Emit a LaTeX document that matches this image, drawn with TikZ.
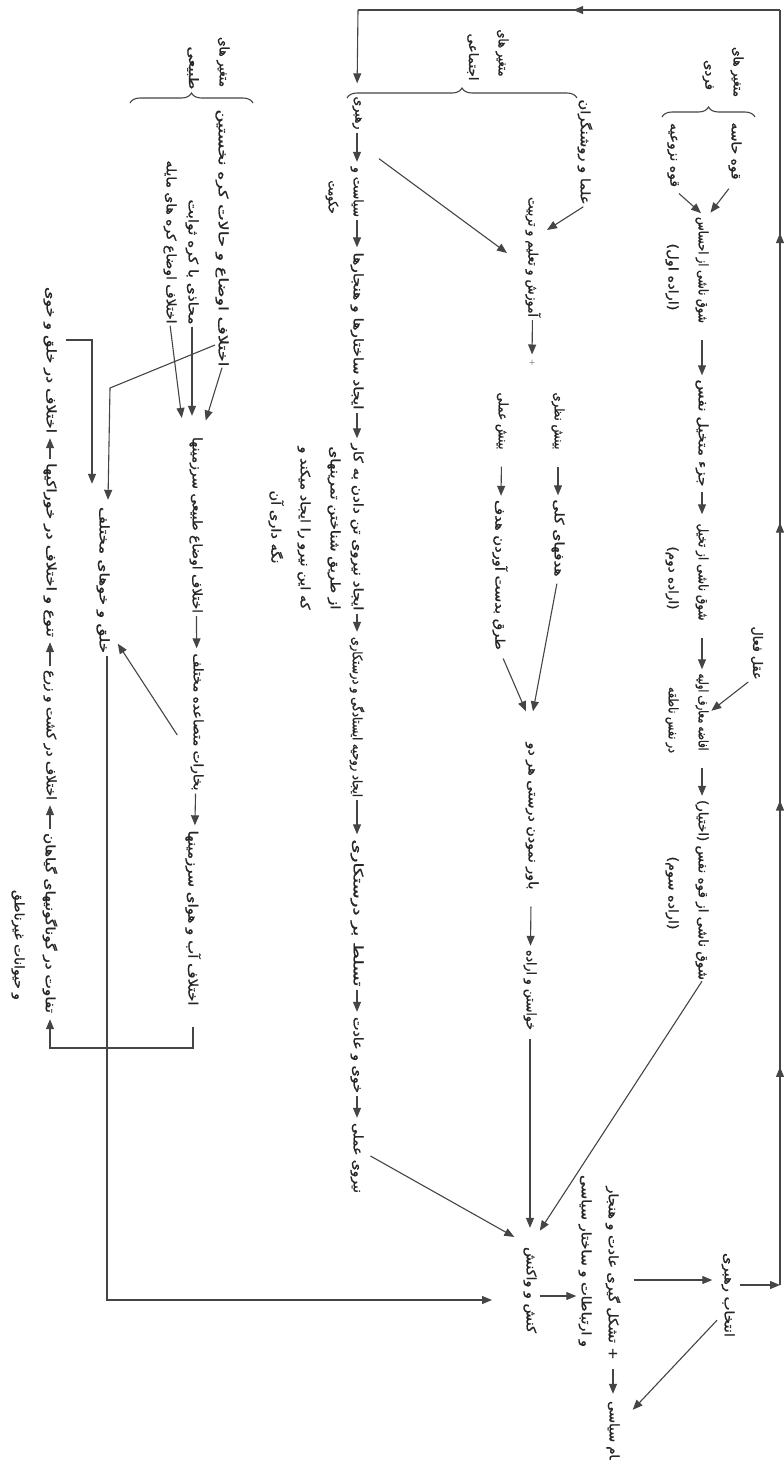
\documentclass[tikz,border=0pt]{standalone}
\usepackage{fontspec}
\usepackage{graphicx}
\usetikzlibrary{arrows.meta,decorations.pathreplacing,decorations.markings,calc}
\TeXXeTstate=1
\newfontfamily\arabicfont[Script=Arabic,FakeBold=1.2]{DejaVu Sans}
\newcommand{\fx}[2]{\resizebox{#1pt}{\height}{\arabicfont #2}}
\definecolor{inkc}{HTML}{262626}
\definecolor{linec}{HTML}{454545}
\begin{document}
\begin{tikzpicture}[x=1pt,y=-1pt,
  txt/.style={rotate=-90, inner sep=1pt, text=inkc, font=\fontsize{13}{15}\selectfont},
  ln/.style={draw=linec, line width=1.1pt},
  arr/.style={ln, -{Triangle[length=10pt,width=8pt]}},
  chainA/.style={arr, shorten <=16pt, shorten >=3pt},
  chainC/.style={arr, shorten <=2pt, shorten >=4pt},
  brc/.style={ln, decorate, decoration={brace, amplitude=10pt}},
  tipmark/.style={ln, postaction={decorate, decoration={markings,
     mark=at position 0.171 with {\arrow{Triangle[length=10pt,width=8pt]}},
     mark=at position 0.380 with {\arrow{Triangle[length=10pt,width=8pt]}},
     mark=at position 0.598 with {\arrow{Triangle[length=10pt,width=8pt]}},
     mark=at position 0.825 with {\arrow{Triangle[length=10pt,width=8pt]}}}}},
  topmark/.style={ln, postaction={decorate, decoration={markings,
     mark=at position 0.49 with {\arrow{Triangle[length=10pt,width=8pt]}}}}}
  ]
\useasboundingbox (0,0) rectangle (784,1460);
\fill[white] (0,0) rectangle (784,1460);
\clip (0,0) rectangle (784,1460);

% ---------------- individual variables ----------------
\node[txt] (vf1) at (737,72) {\fx{50}{\beginR متغیر های\endR}};
\node[txt] (vf2) at (708,75) {\fx{30}{\beginR فردی\endR}};
\draw[brc] (662,117) -- (755,117);
\node[txt] (hasse) at (735,151) {\fx{57}{\beginR قوه حاسه\endR}};
\node[txt] (nozui) at (673,155) {\fx{64}{\beginR قوه نزوعیه\endR}};
\node[txt] (a1) at (702,270) {\fx{106}{\beginR شوق ناشی از احساس\endR}};
\node[txt] (a1s) at (672,277) {\fx{67}{\beginR (اراده اول)\endR}};
\node[txt] (a2) at (702,433) {\fx{107}{\beginR جزء متخیل نفس\endR}};
\node[txt] (a3) at (702,572) {\fx{97}{\beginR شوق ناشی از تخیل\endR}};
\node[txt] (a3s) at (672,578) {\fx{63}{\beginR (اراده دوم)\endR}};
\node[txt] (aql) at (757,653) {\fx{53}{\beginR عقل فعال\endR}};
\node[txt] (a4) at (702,712) {\fx{77}{\beginR افاضه معارف اولیه\endR}};
\node[txt] (a4s) at (672,720) {\fx{66}{\beginR در نفس ناطقه\endR}};
\node[txt] (a5) at (702,890) {\fx{180}{\beginR شوق ناشی از قوه نفس (اختیار)\endR}};
\node[txt] (a5s) at (672,893) {\fx{73}{\beginR (اراده سوم)\endR}};

\draw[arr, shorten <=10pt, shorten >=4pt] (hasse.east) -- ($(a1.west)+(6,0)$);
\draw[arr, shorten <=8pt, shorten >=4pt] (nozui.east) -- ($(a1.west)+(2,0)$);
\draw[chainA] (a1) -- (a2);
\draw[arr, shorten <=4pt, shorten >=8pt] (a2) -- (a3);
\draw[chainA] (a3) -- (a4);
\draw[chainA] (a4) -- (a5);
\draw[arr, shorten <=2pt, shorten >=2pt] (aql.south east) -- (a4.north);

% ---------------- social variables ----------------
\node[txt] (ve1) at (502,53) {\fx{47}{\beginR متغیر های\endR}};
\node[txt] (ve2) at (473,57) {\fx{47}{\beginR اجتماعی\endR}};
\draw[brc] (347,98) -- (577,98);
\node[txt] (olama) at (585,152) {\fx{105}{\beginR علما و روشنگران\endR}};
\node[txt] (b1) at (533,257) {\fx{120}{\beginR آموزش و تعلیم و تربیت\endR}};
\node[txt, font=\fontsize{8}{9}\selectfont] (plus1) at (532,363) {+};
\node[txt] (b2a) at (558,421) {\fx{57}{\beginR بینش نظری\endR}};
\node[txt] (b2b) at (502,421) {\fx{57}{\beginR بینش عملی\endR}};
\node[txt] (b3a) at (558,538) {\fx{77}{\beginR هدفهای کلی\endR}};
\node[txt] (b3b) at (500,575) {\fx{150}{\beginR طرق بدست آوردن هدف\endR}};
\node[txt] (b4) at (532,816) {\fx{147}{\beginR باور نمودن درستی هر دو\endR}};
\node[txt] (b5) at (530,990) {\fx{80}{\beginR خواستن و اراده\endR}};

\draw[arr, shorten <=2pt] (olama.east) -- ($(b1.center)+(14,-27)$);
\draw[arr, shorten <=2pt, shorten >=4pt] (b1) -- (plus1);
\draw[chainA] (b2a) -- (b3a);
\draw[chainA] (b2b) -- (b3b);
\draw[arr, shorten <=6pt] (b3a.east) -- ($(b4.west)+(1,-30)$);
\draw[arr, shorten <=8pt] (b3b.east) -- ($(b4.west)+(-6,-30)$);
\draw[chainA] (b4) -- (b5);

% ---------------- leadership chain ----------------
\node[txt] (c0) at (357,113) {\fx{33}{\beginR رهبری\endR}};
\node[txt] (c1) at (357,192) {\fx{50}{\beginR سیاست و\endR}};
\node[txt] (c1b) at (332,197) {\fx{33}{\beginR حکومت\endR}};
\node[txt] (c2) at (357,331) {\fx{157}{\beginR ایجاد ساختارها و هنجارها\endR}};
\node[txt] (c3) at (357,527) {\fx{167}{\beginR ایجاد نیروی تن دادن به کار\endR}};
\node[txt] (c3s1) at (334,528) {\fx{163}{\beginR از طریق شناختن تمرینهای\endR}};
\node[txt] (c3s2) at (304,528) {\fx{163}{\beginR که این نیرو را ایجاد میکند و\endR}};
\node[txt] (c3s3) at (276,527) {\fx{73}{\beginR نگه داری آن\endR}};
\node[txt] (c4) at (357,717) {\fx{160}{\beginR ایجاد روحیه ایستادگی و درستکاری\endR}};
\node[txt] (c5) at (357,913) {\fx{147}{\beginR تسلط بر درستکاری\endR}};
\node[txt] (c6) at (357,1055) {\fx{76}{\beginR خوی و عادت\endR}};
\node[txt] (c7) at (357,1158) {\fx{70}{\beginR نیروی عملی\endR}};

\draw[chainC] (c0) -- (c1);
\draw[chainC] (c1) -- (c2);
\draw[chainC] (c2) -- (c3);
\draw[chainC] (c3) -- (c4);
\draw[chainC] (c4) -- (c5);
\draw[chainC] (c5) -- (c6);
\draw[chainC] (c6) -- (c7);
\draw[arr] ($(c0.east)+(22,28)$) -- ($(b1.center)+(-26,-4)$);

% ---------------- natural variables ----------------
\node[txt] (vt1) at (223,62) {\fx{50}{\beginR متغیر های\endR}};
\node[txt] (vt2) at (193,68) {\fx{43}{\beginR طبیعی\endR}};
\draw[brc] (130,103) -- (253,103);
\node[txt] (d1) at (222,238) {\fx{257}{\beginR اختلاف اوضاع و حالات کره نخستین\endR}};
\node[txt] (d2) at (192,262) {\fx{125}{\beginR محاذی با کره ثوابت\endR}};
\node[txt] (d3) at (170,242) {\fx{163}{\beginR اختلاف اوضاع کره های مایله\endR}};
\node[txt] (d4) at (196,525) {\fx{176}{\beginR اختلاف اوضاع طبیعی سرزمینها\endR}};
\node[txt] (d5) at (197,722) {\fx{137}{\beginR بخارات متصاعده مختلف\endR}};
\node[txt] (d6) at (193,918) {\fx{175}{\beginR اختلاف آب و هوای سرزمینها\endR}};
\node[txt] (e1) at (103,580) {\fx{146}{\beginR خلق و خوهای مختلف\endR}};
\node[txt] (f1) at (50,360) {\fx{146}{\beginR اختلاف در خلق و خوی\endR}};
\node[txt] (f2) at (50,550) {\fx{174}{\beginR تنوع و اختلاف در خوراکیها\endR}};
\node[txt] (f3) at (50,735) {\fx{130}{\beginR اختلاف در کشت و زرع\endR}};
\node[txt] (f4) at (50,923) {\fx{180}{\beginR تفاوت در گوناگونیهای گیاهان\endR}};
\node[txt] (f4b) at (18,945) {\fx{110}{\beginR و حیوانات غیرناطق\endR}};

\draw[arr, shorten >=16pt] (d1.east) -- ($(d4.west)+(5,0)$);
\draw[arr, shorten <=1pt, shorten >=20pt] (d2.east) -- ($(d4.west)+(-4,0)$);
\draw[arr, shorten <=1pt, shorten >=18pt] (d3.east) -- ($(d4.west)+(-12,0)$);
\coordinate (bendA) at (110,388);
\draw[arr] ($(d1.center)+(-7,107)$) -- (bendA) -- ($(e1.west)+(5,-6)$);
\draw[chainC] (d4) -- (d5);
\draw[chainC] (d5) -- (d6);
\draw[arr, shorten >=2pt] ($(d5.south)+(-12,13)$) -- ($(e1.north)+(6,62)$);
\coordinate (lowline) at (0,1048);
\draw[arr, shorten >=5pt] ($(d6.east)+(0,20)$) -- (d6.east |- lowline) -- (f4.east |- lowline) -- (f4.east);
\draw[arr, shorten <=3pt, shorten >=4pt] (f4.west) -- (f3.east);
\draw[arr, shorten <=3pt, shorten >=4pt] (f3.west) -- (f2.east);
\draw[arr, shorten <=3pt, shorten >=4pt] (f2.west) -- (f1.east);
\draw[arr] ($(f1.north)+(8,-20)$) -| ($(e1.west)+(-11,-22)$);

% ---------------- action block ----------------
\node[txt] (kansh) at (530,1290) {\fx{86}{\beginR کنش و واکنش\endR}};
\node[txt] (t1) at (613,1273) {\fx{173}{\beginR + تشکل گیری عادت و هنجار\endR}};
\node[txt] (t2) at (585,1261) {\fx{172}{\beginR و ارتباطات و ساختار سیاسی\endR}};
\node[txt] (rah2) at (728,1295) {\fx{84}{\beginR انتخاب رهبری\endR}};
\node[txt] (nezam) at (613,1437) {\fx{72}{\beginR نظام سیاسی\endR}};

\draw[arr, shorten >=18pt] (a5.east) -- (kansh.west);
\draw[arr, shorten <=8pt, shorten >=18pt] (b5.east) -- (kansh.west);
\draw[arr, shorten <=2pt, shorten >=18pt] ($(c7.north)+(4,-3)$) -- (kansh.west);
\draw[arr] ($(e1.east)+(4,2)$) |- ($(kansh.center)+(-38,10)$);
\coordinate (kout) at ($(kansh.north)+(2,6)$);
\coordinate (kin) at ($(t2.south)+(-1,0)$);
\draw[arr] (kout) -- (kout -| kin);
\draw[arr] ($(t1.north)+(12,7)$) -- ($(rah2.south)+(-8,-15)$);
\draw[arr, shorten <=8pt, shorten >=6pt] (t1.east) -- (nezam.west);
\draw[arr] ($(rah2.east)+(-11,-18)$) -- ($(nezam.north west)+(12,10)$);

% ---------------- feedback loop ----------------
\coordinate (br) at (780,1285);
\coordinate (tr) at (780,10);
\coordinate (tl) at (358,10);
\draw[arr] ($(rah2.north)+(4,-10)$) -- (br);
\draw[tipmark] (br) -- (tr);
\draw[topmark] (tr) -- (tl);
\draw[arr, shorten >=12pt] (tl) -- (c0.west);
\end{tikzpicture}
\end{document}
